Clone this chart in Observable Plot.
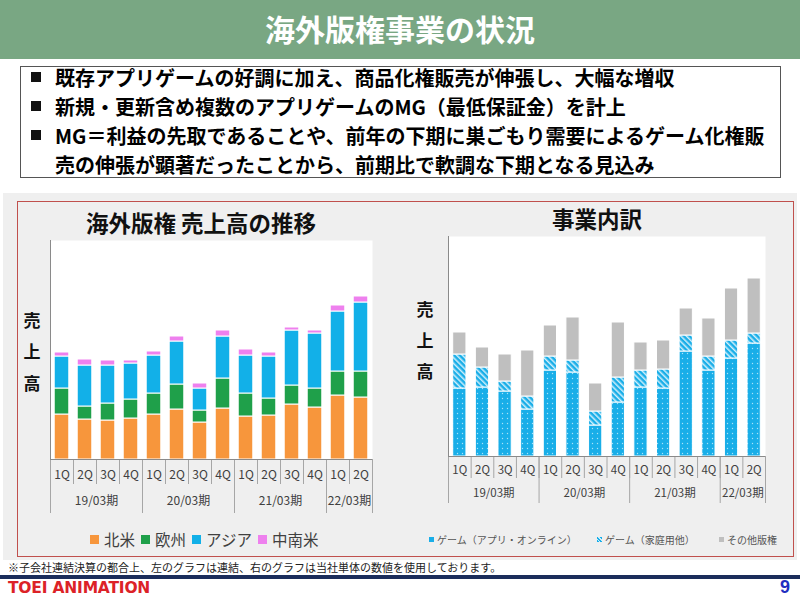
<!DOCTYPE html>
<html><head><meta charset="utf-8">
<script src="https://cdn.jsdelivr.net/npm/d3@7"></script>
<script src="https://cdn.jsdelivr.net/npm/@observablehq/plot@0.6"></script>
<style>
body{margin:0;width:800px;height:600px;position:relative;background:#fff;font-family:"Noto Sans CJK JP",sans-serif;overflow:hidden;color:#000}
.abs{position:absolute}
#header{left:0;top:0;width:800px;height:59px;background:#79a783;color:#fff;font-weight:700;font-size:30px;line-height:57px;text-align:center}
#box{left:20px;top:66px;width:761px;height:112px;border:1.5px solid #555;box-sizing:border-box;background:#fff}
.bl{position:absolute;left:55px;height:29px;line-height:29px;font-size:20px;font-weight:700;white-space:nowrap}
.sq{position:absolute;left:31px;width:10px;height:10px;background:#111}
#panel{left:3px;top:193px;width:794px;height:367px;background:#efefef}
#red{left:17px;top:201px;width:777px;height:356px;border:1.5px solid #c0504d;box-sizing:border-box}
.ctitle{position:absolute;font-weight:700;font-size:22.5px;line-height:30px;white-space:nowrap;transform:translateX(-50%);color:#111}
.ylab{position:absolute;font-weight:700;font-size:17px;line-height:20px;transform:translate(-50%,-50%);color:#111}
.lg{position:absolute;display:flex;align-items:center;white-space:nowrap;color:#404040}
.lg span.s{display:inline-block}
#foot{left:8px;top:559px;font-size:11px;line-height:16px;color:#222;white-space:nowrap}
#navy{left:0;top:575px;width:800px;height:3.5px;background:#1b2d5b}
#toei{left:8px;top:578px;font-family:"DejaVu Sans",sans-serif;font-weight:700;font-size:15.5px;line-height:20px;color:#dc2227;letter-spacing:-0.2px}
#pg{left:780px;top:576px;font-family:"Liberation Sans",sans-serif;font-weight:700;font-size:18px;line-height:22px;color:#1f2ec0}
</style></head><body>
<div id="header" class="abs">海外版権事業の状況</div>
<div id="box" class="abs"></div>
<div class="sq" style="top:72px"></div>
<div class="bl" style="top:62.5px">既存アプリゲームの好調に加え、商品化権販売が伸張し、大幅な増収</div>
<div class="sq" style="top:101px"></div>
<div class="bl" style="top:91.5px">新規・更新含め複数のアプリゲームのMG（最低保証金）を計上</div>
<div class="sq" style="top:130px"></div>
<div class="bl" style="top:120.5px">MG＝利益の先取であることや、前年の下期に巣ごもり需要によるゲーム化権販</div>
<div class="bl" style="top:149.5px">売の伸張が顕著だったことから、前期比で軟調な下期となる見込み</div>

<div id="panel" class="abs"></div>
<div id="red" class="abs"></div>

<div class="ctitle" style="left:201px;top:207px">海外版権 売上高の推移</div>
<div class="ctitle" style="left:597px;top:203px">事業内訳</div>

<div class="ylab" style="left:32px;top:320px">売</div>
<div class="ylab" style="left:32px;top:351px">上</div>
<div class="ylab" style="left:32px;top:383px">高</div>
<div class="ylab" style="left:425px;top:309px">売</div>
<div class="ylab" style="left:425px;top:340px">上</div>
<div class="ylab" style="left:425px;top:371px">高</div>

<div id="leftChart" class="abs" style="left:20px;top:230px;width:360px;height:290px"></div>
<div id="rightChart" class="abs" style="left:400px;top:226px;width:380px;height:290px"></div>

<div id="leftLegend" class="lg" style="left:90px;top:528px;height:22px;font-size:15.5px"></div>
<div id="rightLegend"></div>

<div id="foot" class="abs">※子会社連結決算の都合上、左のグラフは連結、右のグラフは当社単体の数値を使用しております。</div>
<div id="navy" class="abs"></div>
<div id="toei" class="abs">TOEI ANIMATION</div>
<div id="pg" class="abs">9</div>

<script>
// ---- shared categories ----
const quarters = ["1Q","2Q","3Q","4Q","1Q","2Q","3Q","4Q","1Q","2Q","3Q","4Q","1Q","2Q"];
const periods = ["19/03期","20/03期","21/03期","22/03期"];
const periodLengths = [4, 4, 4, 2];

// ---- left chart: 海外版権 売上高の推移 (relative units) ----
const leftNames = ["北米","欧州","アジア","中南米"];
const leftColors = ["#f7963c","#1fa04a","#12b0e8","#ee80ee"];
const northAmerica = [45, 40, 39, 41, 45, 50, 37, 51, 43, 44, 55, 52, 64, 62];
const europe       = [26, 13, 17, 19, 21, 25, 12, 30, 23, 17, 19, 19, 24, 26];
const asia         = [32, 41, 38, 36, 38, 43, 22, 42, 38, 42, 55, 55, 60, 69];
const latinAmerica = [ 4,  6,  5,  3,  4,  5,  5,  6,  6,  4,  3,  3,  6,  6];

// ---- right chart: 事業内訳 ----
const rightNames = ["ゲーム（アプリ・オンライン）","ゲーム（家庭用他）","その他版権"];
const rightFills = ["url(#dots)","url(#hatch)","#bfbfbf"];
const gameApp     = [68, 69, 65, 47, 86, 84, 31, 54, 69, 68, 105, 86,  98, 113];
const gameConsole = [34, 20, 10, 13, 14, 12, 14, 25, 17, 19,  16, 14,  18,  10];
const otherRights = [22, 20, 27, 46, 31, 43, 28, 55, 28, 29,  27, 38,  52,  55];

// ---- derived tables ----
const periodBounds = [0, ...d3.cumsum(periodLengths)];
const periodRows = periods.map((p, k) => ({label: p, mid: (periodBounds[k] + periodBounds[k + 1]) / 2}));
const quarterRows = quarters.map((q, i) => ({label: q, mid: i + 0.5}));
const quarterBounds = d3.range(1, quarters.length);

function rowsOf(names, seriesList) {
  return names.flatMap((name, s) => seriesList[s].map((v, i) => ({i, x1: i, x2: i + 1, value: v, series: name})));
}
const leftRows = rowsOf(leftNames, [northAmerica, europe, asia, latinAmerica]);
const rightRows = rowsOf(rightNames, [gameApp, gameConsole, otherRights]);

function makeChart({rows, names, fills, width, height, margins, yMax, inset, qDepth, pDepth, qDy, pDy, fontSize}) {
  return Plot.plot({
    width, height,
    marginLeft: margins[0], marginRight: margins[1], marginTop: margins[2], marginBottom: margins[3],
    style: {background: "transparent", fontFamily: "'Noto Sans CJK JP', sans-serif"},
    x: {domain: [0, quarters.length], axis: null},
    y: {domain: [0, yMax], axis: null},
    color: {domain: names, range: fills},
    marks: [
      Plot.frame({fill: "white", stroke: "none"}),
      Plot.rectY(rows, Plot.stackY({x: "i", x1: "x1", x2: "x2", y: "value", fill: "series",
        stroke: "white", strokeWidth: 1, insetLeft: inset, insetRight: inset})),
      Plot.ruleX(quarterBounds, {y1: 0, y2: 0, insetBottom: -qDepth, stroke: "#a6a6a6"}),
      Plot.ruleX(periodBounds, {y1: 0, y2: 0, insetBottom: -pDepth, stroke: "#a6a6a6"}),
      Plot.ruleX([0], {stroke: "#8a8a8a"}),
      Plot.ruleY([0], {stroke: "#8a8a8a"}),
      Plot.text(quarterRows, {x: "mid", y: 0, dy: qDy, text: "label", fontSize, fill: "#404040"}),
      Plot.text(periodRows, {x: "mid", y: 0, dy: pDy, text: "label", fontSize, fill: "#404040"})
    ]
  });
}

const left = makeChart({rows: leftRows, names: leftNames, fills: leftColors, width: 360, height: 290,
  margins: [30, 8, 10, 61], yMax: 219, inset: 4.2, qDepth: 25, pDepth: 54, qDy: 16, pDy: 42, fontSize: 12});
document.getElementById("leftChart").appendChild(left);

const right = makeChart({rows: rightRows, names: rightNames, fills: rightFills, width: 380, height: 290,
  margins: [48, 15, 10, 60], yMax: 220, inset: 4.7, qDepth: 22, pDepth: 47, qDy: 14, pDy: 37, fontSize: 11.5});
// patterns used by the right chart fills
const defs = d3.select(right).insert("defs", ":first-child");
const dots = defs.append("pattern").attr("id", "dots").attr("patternUnits", "userSpaceOnUse").attr("width", 5).attr("height", 5);
dots.append("rect").attr("width", 5).attr("height", 5).attr("fill", "#19aee8");
dots.append("circle").attr("cx", 2.5).attr("cy", 2.5).attr("r", 0.7).attr("fill", "#a8e3f8");
const hatch = defs.append("pattern").attr("id", "hatch").attr("patternUnits", "userSpaceOnUse").attr("width", 4).attr("height", 4).attr("patternTransform", "rotate(-45)");
hatch.append("rect").attr("width", 4).attr("height", 4).attr("fill", "#19aee8");
hatch.append("line").attr("x1", 0.75).attr("y1", 0).attr("x2", 0.75).attr("y2", 4).attr("stroke", "#d0effb").attr("stroke-width", 1.5);
document.getElementById("rightChart").appendChild(right);

// legends
const ll = document.getElementById("leftLegend");
leftNames.forEach((n, k) => {
  const item = document.createElement("span");
  item.style.cssText = "display:flex;align-items:center;margin-right:6px";
  item.innerHTML = `<span class="s" style="width:9px;height:9px;background:${leftColors[k]};margin-right:5px"></span>${n}`;
  ll.appendChild(item);
});
const rl = document.getElementById("rightLegend");
const rightSwatch = ["#19aee8", "repeating-linear-gradient(45deg,#19aee8 0 1.5px,#d0effb 1.5px 2.5px)", "#bfbfbf"];
const rightLegendX = [429, 597, 719];
rightNames.forEach((n, k) => {
  const item = document.createElement("div");
  item.className = "lg";
  item.style.cssText = `left:${rightLegendX[k]}px;top:531px;height:16px;font-size:10px;color:#555`;
  item.innerHTML = `<span class="s" style="width:5px;height:5px;background:${rightSwatch[k]};margin-right:3px"></span>${n}`;
  rl.appendChild(item);
});
</script>
</body></html>
